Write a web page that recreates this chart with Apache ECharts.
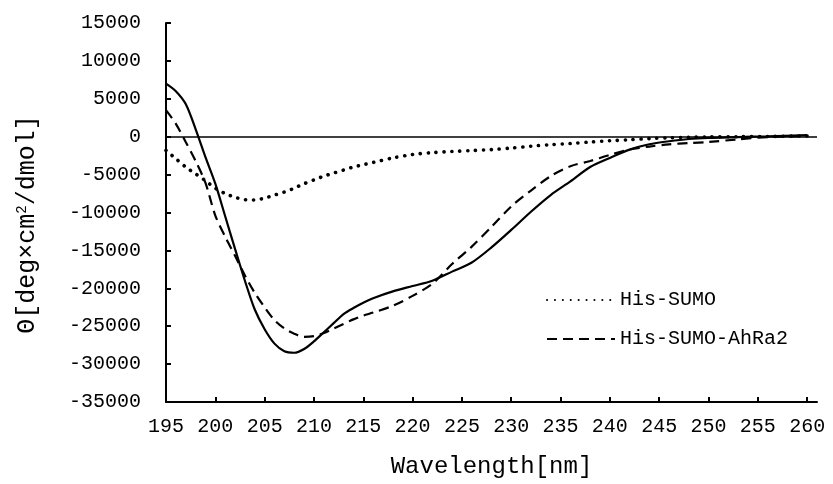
<!DOCTYPE html>
<html>
<head>
<meta charset="utf-8">
<title>CD spectra</title>
<script src="https://cdn.jsdelivr.net/npm/echarts@6/dist/echarts.min.js"></script>
<style>
  html, body { margin: 0; padding: 0; background: #fff; }
  #chart { width: 833px; height: 484px; }
</style>
</head>
<body>
<div id="chart"></div>
<script>
// wavelength (nm)
var wavelengths = [195, 196, 197, 198, 199, 200, 201, 202, 203, 204, 205, 206, 207, 208, 209, 210, 211, 212, 213, 214, 215, 216, 218, 220, 222, 224, 226, 228, 230, 232, 234, 236, 238, 240, 242, 244, 246, 248, 250, 253, 256, 260]

// solid line (no legend entry)
var solidData = [7000, 6000, 4300, 1000, -2700, -6200, -10500, -14800, -19000, -22800, -25400, -27300, -28300, -28500, -28000, -27000, -25800, -24600, -23400, -22600, -21900, -21300, -20400, -19700, -19000, -17800, -16600, -14600, -12300, -9900, -7700, -5900, -4000, -2800, -1700, -1000, -600, -300, -150, -50, 50, 200]

// His-SUMO (dotted)
var sumoData = [-1800, -2900, -4000, -4900, -5800, -6800, -7500, -8000, -8300, -8350, -8100, -7700, -7300, -6800, -6200, -5700, -5200, -4800, -4400, -4000, -3700, -3400, -2800, -2350, -2100, -1950, -1830, -1700, -1500, -1250, -1050, -900, -700, -530, -400, -250, -150, -80, -30, 0, 30, 100]

// His-SUMO-AhRa2 (dashed)
var ahraData = [3500, 1700, -700, -3200, -6100, -10400, -13200, -15700, -18300, -20600, -22500, -24200, -25300, -26000, -26400, -26300, -25900, -25300, -24700, -24100, -23600, -23200, -22300, -21000, -19400, -16800, -14500, -11900, -9200, -7100, -5200, -3900, -3200, -2400, -1700, -1300, -1000, -850, -700, -350, -50, 100]

var xLabels = [195, 200, 205, 210, 215, 220, 225, 230, 235, 240, 245, 250, 255, 260]
var xTicks = [200, 205, 210, 215, 220, 225, 230, 235, 240, 245, 250, 255, 260]

var seriesNames = ['His-SUMO', 'His-SUMO-AhRa2']

function pairs(values) {
  return wavelengths.map(function (w, i) {
    return [w, values[i]]
  })
}

var font = '"Liberation Mono", "DejaVu Sans Mono", monospace'

var chart = echarts.init(document.getElementById('chart'))
chart.setOption({
  animation: false,
  textStyle: { fontFamily: font, color: '#000' },
  grid: {
    left: 166,
    right: 16,
    top: 23,
    bottom: 81,
  },
  legend: {
    data: seriesNames,
    orient: 'vertical',
    left: 541,
    top: 285,
    itemWidth: 68,
    itemHeight: 14,
    itemGap: 19,
    itemStyle: { opacity: 0 }, // 不要图例里的圆点
    textStyle: { fontFamily: font, fontSize: 20, color: '#000' },
  },
  xAxis: {
    type: 'value',
    min: 195,
    max: 261,
    name: 'Wavelength[nm]',
    nameLocation: 'middle',
    nameGap: 53,
    nameTextStyle: { fontFamily: font, fontSize: 24, color: '#000' },
    axisLine: { onZero: false, lineStyle: { color: '#000', width: 2 } },
    axisTick: { inside: true, length: 5, customValues: xTicks, lineStyle: { color: '#000', width: 2 } },
    axisLabel: { customValues: xLabels, margin: 15, fontFamily: font, fontSize: 20, color: '#000' },
    splitLine: { show: false },
  },
  yAxis: {
    type: 'value',
    min: -35000,
    max: 15000,
    interval: 5000,
    name: '{a|Θ[deg×cm}{s|2}{a|/dmol]}',
    nameLocation: 'middle',
    nameGap: 126,
    nameTextStyle: {
      padding: [0, 24, 0, 0],
      rich: {
        a: { fontFamily: font, fontSize: 25, color: '#000' },
        s: { fontFamily: font, fontSize: 14, color: '#000', verticalAlign: 'top', padding: [0, 0, 10, 0] },
      },
    },
    axisLine: { lineStyle: { color: '#000', width: 2 } },
    axisTick: { inside: true, length: 5, lineStyle: { color: '#000', width: 2 } },
    axisLabel: {
      margin: 25,
      fontFamily: font,
      fontSize: 20,
      color: '#000',
      formatter: function (v) {
        return String(v)
      },
    },
    splitLine: { show: false },
  },
  series: [
    {
      name: 'solid',
      type: 'line',
      smooth: 0.3,
      symbol: 'none',
      lineStyle: { color: '#000', width: 2.2 },
      data: pairs(solidData),
      markLine: {
        silent: true,
        symbol: 'none',
        label: { show: false },
        lineStyle: { color: '#000', type: 'solid', width: 1.5 },
        data: [{ yAxis: 0 }],
      },
    },
    {
      name: seriesNames[0],
      type: 'line',
      smooth: 0.3,
      symbol: 'none',
      itemStyle: { color: '#000' },
      lineStyle: { color: '#000', width: 3.6, type: [0.1, 7.8], cap: 'round' },
      data: pairs(sumoData),
    },
    {
      name: seriesNames[1],
      type: 'line',
      smooth: 0.3,
      symbol: 'none',
      itemStyle: { color: '#000' },
      lineStyle: { color: '#000', width: 2.2, type: [10, 6] },
      data: pairs(ahraData),
    },
  ],
})
</script>
</body>
</html>
